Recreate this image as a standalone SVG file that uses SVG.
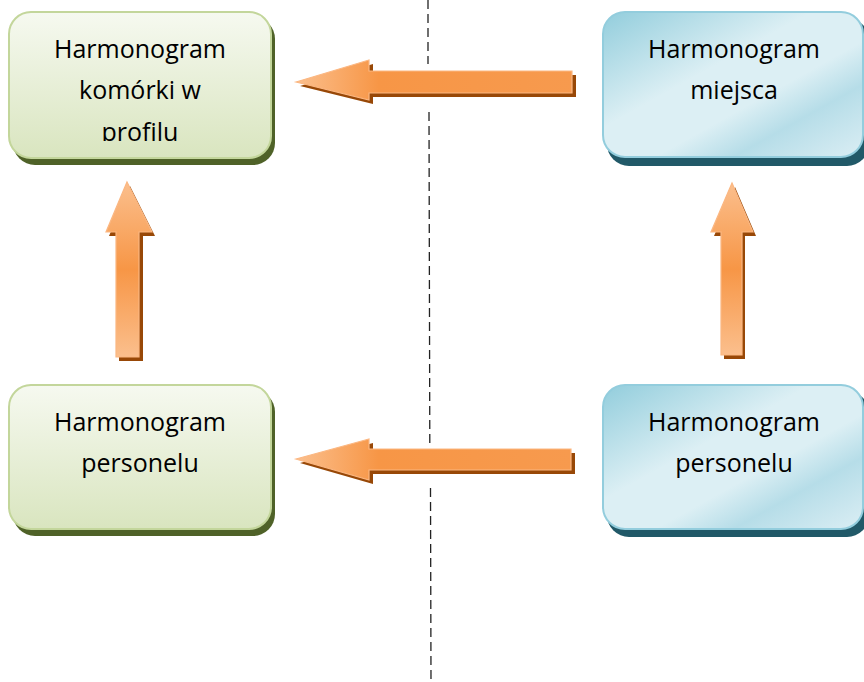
<svg xmlns="http://www.w3.org/2000/svg" width="864" height="682" viewBox="0 0 864 682">
<style>
.lbl{font-family:"Open Sans","Liberation Sans",sans-serif;font-size:25px;fill:#000;text-anchor:middle}
.gbox{fill:url(#gGreen);stroke:#c3d69b;stroke-width:2}
.gsh{fill:#4f6228}
.bbox{fill:url(#gBlue);stroke:#93cddd;stroke-width:2}
.bsh{fill:#215968}
.ash{fill:#984807}
.dash{stroke:#222;stroke-width:1.3;stroke-dasharray:9 5;fill:none}
</style>
<defs>
<linearGradient id="gGreen" x1="0" y1="0" x2="0" y2="1">
<stop offset="0" stop-color="#f6f9f0"/>
<stop offset="1" stop-color="#d9e5bf"/>
</linearGradient>
<linearGradient id="gBlue" x1="0" y1="0" x2="1" y2="1">
<stop offset="0" stop-color="#92cddc"/>
<stop offset="0.4" stop-color="#dceff4"/>
<stop offset="0.6" stop-color="#dceff4"/>
<stop offset="0.75" stop-color="#b6dde8"/>
<stop offset="1" stop-color="#dbeef4"/>
</linearGradient>
<linearGradient id="gArrH" x1="0" y1="0" x2="1" y2="0">
<stop offset="0" stop-color="#fbbf8d"/>
<stop offset="0.3" stop-color="#f79646"/>
<stop offset="1" stop-color="#f79a4e"/>
</linearGradient>
<linearGradient id="gArrV" x1="0" y1="0" x2="0" y2="1">
<stop offset="0" stop-color="#fbbf8d"/>
<stop offset="0.5" stop-color="#f79646"/>
<stop offset="1" stop-color="#fbbf8d"/>
</linearGradient>
<clipPath id="clipTL"><rect x="0" y="0" width="300" height="141"/></clipPath>
</defs>

<g id="divider">
<line class="dash" x1="428" y1="0" x2="428" y2="64"/>
<line class="dash" x1="429" y1="112" x2="429.8" y2="443"/>
<line class="dash" x1="430.5" y1="488" x2="431" y2="682"/>
</g>

<g id="node-komorki">
<rect class="gsh" x="13" y="17" width="262" height="148" rx="22"/>
<rect class="gbox" x="9" y="12" width="262" height="146" rx="22"/>
<g clip-path="url(#clipTL)">
<text class="lbl" x="140" y="58">Harmonogram</text>
<text class="lbl" x="140" y="99">komórki w</text>
<text class="lbl" x="140" y="141">profilu</text>
</g>
</g>

<g id="node-miejsca">
<rect class="bsh" x="607" y="18" width="262" height="148" rx="22"/>
<rect class="bbox" x="603" y="12" width="260" height="145" rx="22"/>
<text class="lbl" x="734" y="58">Harmonogram</text>
<text class="lbl" x="734" y="99">miejsca</text>
</g>

<g id="node-personelu-left">
<rect class="gsh" x="13" y="390" width="262" height="146" rx="22"/>
<rect class="gbox" x="9" y="385" width="262" height="144" rx="22"/>
<text class="lbl" x="140" y="431">Harmonogram</text>
<text class="lbl" x="140" y="472">personelu</text>
</g>

<g id="node-personelu-right">
<rect class="bsh" x="607" y="391" width="262" height="146" rx="22"/>
<rect class="bbox" x="603" y="385" width="260" height="144" rx="22"/>
<text class="lbl" x="734" y="431">Harmonogram</text>
<text class="lbl" x="734" y="472">personelu</text>
</g>

<g id="connectors">
<g id="arrow-top">
<polygon class="ash" points="300,86 373,64 373,75 576,75 576,97 373,97 373,104"/>
<polygon points="296,82 369,60 369,71 572,71 572,93 369,93 369,100" fill="url(#gArrH)" stroke="#fbb782" stroke-width="1.2"/>
</g>
<g id="arrow-bottom">
<polygon class="ash" points="300,463 373,443 373,453 575,453 575,474 373,474 373,484"/>
<polygon points="296,459 369,439 369,449 571,449 571,470 369,470 369,480" fill="url(#gArrH)" stroke="#fbb782" stroke-width="1.2"/>
</g>
<g id="arrow-left-up">
<polygon class="ash" points="130,186 155,236 143,236 143,361 119,361 119,236 109,236"/>
<polygon points="127,182 152,232 139,232 139,357 116,357 116,232 106,232" fill="url(#gArrV)" stroke="#fbb782" stroke-width="1.2"/>
</g>
<g id="arrow-right-up">
<polygon class="ash" points="735,187 756,236 745,236 745,359 724,359 724,236 714,236"/>
<polygon points="732,183 753,232 742,232 742,355 721,355 721,232 711,232" fill="url(#gArrV)" stroke="#fbb782" stroke-width="1.2"/>
</g>
</g>
</svg>
